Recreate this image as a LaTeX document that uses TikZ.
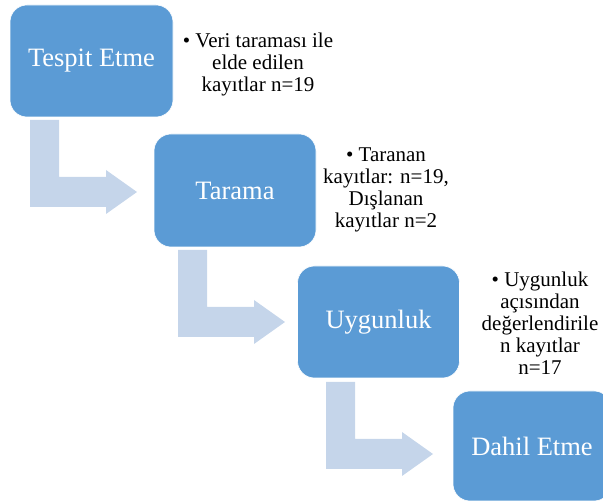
\documentclass[tikz,border=0pt]{standalone}
\usepackage{fontspec}
\setmainfont{Liberation Serif}
\usepackage{tikz}
\usetikzlibrary{arrows.meta,calc}
\definecolor{kutumavi}{HTML}{5B9BD5}
\definecolor{okacik}{HTML}{C5D5EA}
\tikzset{
  adim/.style={fill=kutumavi,draw=white,line width=.6pt,rounded corners=17pt,
    text=white,font=\fontsize{26.5}{30}\selectfont,inner sep=0pt},
  aciklama/.style={align=center,text=black,font=\fontsize{21}{22}\selectfont,inner sep=0pt}
}

\begin{document}
\begin{tikzpicture}[x=1pt,y=-1pt]
  \useasboundingbox (0,0) rectangle (603,502);
  \clip (0,0) rectangle (603,502);
  % bent arrows
  \foreach \x/\y in {30/120,178/250,326/382} {
    \fill[okacik] (\x,\y) -- ++(29,0) -- ++(0,57) -- ++(47,0) -- ++(0,-7)
      -- ++(31,22) -- ++(-31,22) -- ++(0,-7) -- ++(-76,0) -- cycle;
  }
  \node[adim,minimum width=163pt,minimum height=112pt] (tespit) at (91.5,61) {Tespit Etme};
  \node[adim,minimum width=162pt,minimum height=113pt] (tarama) at (235,190.5) {Tarama};
  \node[adim,minimum width=162pt,minimum height=112pt] (uygun) at (378.5,322) {Uygunluk};
  \node[adim,minimum width=158pt,minimum height=110pt] (dahil) at (532,446) {Dahil Etme};
  \node[aciklama] (acik1) at (258,64) {\textbullet\ Veri taraması ile\\elde edilen\\kayıtlar n=19};
  \node[aciklama] (acik2) at (386,190) {\textbullet\ Taranan\\kayıtlar: n=19,\\Dışlanan\\kayıtlar n=2};
  \node[aciklama] (acik3) at (540,323) {\textbullet\ Uygunluk\\açısından\\değerlendirile\\n kayıtlar\\n=17};
\end{tikzpicture}
\end{document}
